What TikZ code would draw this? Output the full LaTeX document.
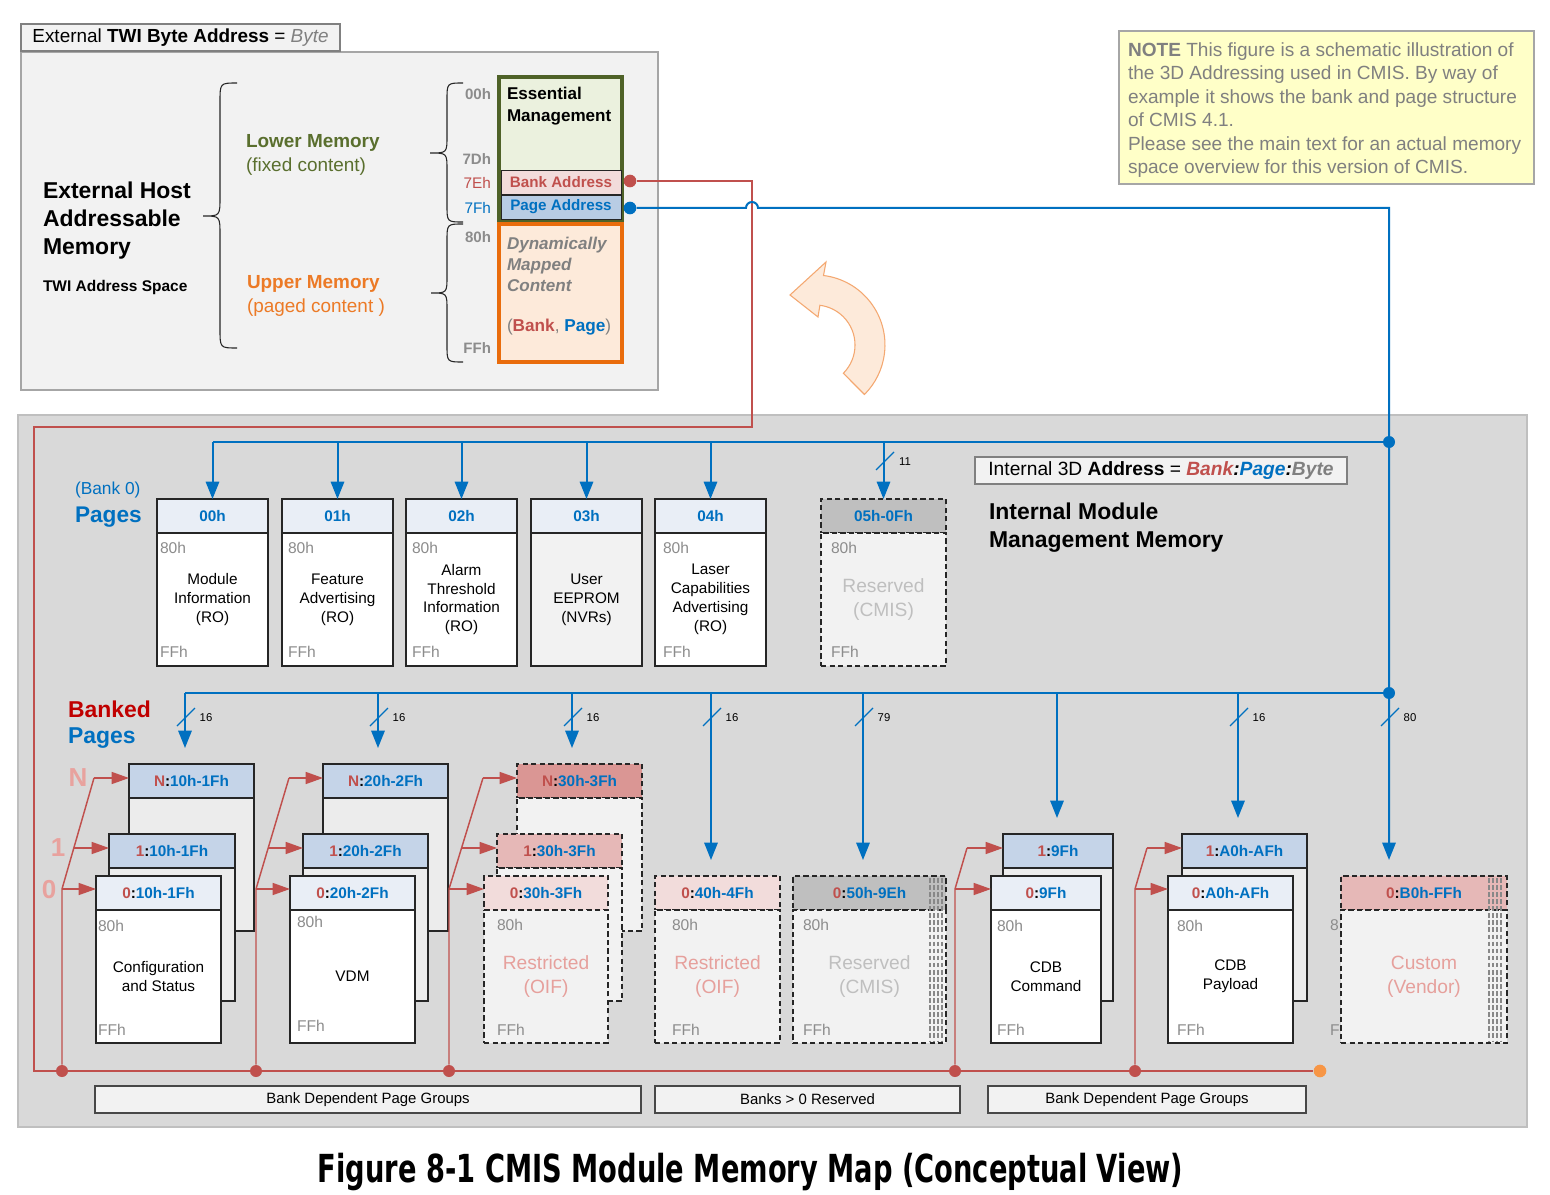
\documentclass[tikz,border=0pt]{standalone}
\usepackage{fontspec}
\usepackage{graphicx}
\setmainfont{Liberation Sans}
\newfontfamily\titlefont{DejaVu Sans}
\usetikzlibrary{arrows.meta}
\definecolor{cred}{HTML}{C0504D}
\definecolor{cblue}{HTML}{0070C0}
\definecolor{cgraytxt}{HTML}{808080}
\definecolor{chex}{HTML}{8C8C8C}
\definecolor{cregion}{HTML}{D9D9D9}
\definecolor{clight}{HTML}{F2F2F2}
\definecolor{chdrl}{HTML}{E9EEF6}
\definecolor{chdrb}{HTML}{C5D4E8}
\definecolor{cpageaddr}{HTML}{B8CCE4}
\definecolor{cbankaddr}{HTML}{F2DCDB}
\definecolor{csalN}{HTML}{DA9694}
\definecolor{csalA}{HTML}{E6B8B7}
\definecolor{csalZ}{HTML}{F2DCDB}
\definecolor{crestr}{HTML}{E6A09C}
\definecolor{cnum}{HTML}{E8A29E}
\definecolor{cres}{HTML}{BFBFBF}
\definecolor{cgreen}{HTML}{4F6228}
\definecolor{cgreenfill}{HTML}{EBF1DE}
\definecolor{colive}{HTML}{5A6F2E}
\definecolor{corange}{HTML}{EC7A26}
\definecolor{cobox}{HTML}{E96C0C}
\definecolor{corangefill}{HTML}{FDEADA}
\definecolor{carrowline}{HTML}{F4A871}
\definecolor{cnote}{HTML}{FFFFC8}
\definecolor{cborder}{HTML}{A6A6A6}
\definecolor{cdark}{HTML}{262626}
\definecolor{cbanked}{HTML}{C00000}
\definecolor{cstack}{HTML}{ECECEC}
\definecolor{codot}{HTML}{F79646}
\newcommand\fsz[2]{\fontsize{#1}{#2}\selectfont}
\newcommand\bk[2]{{\color{cred}#1}:{\color{cblue}#2}}
\newcommand\rbox[7][]{\node[inner sep=0pt, outer sep=0pt, anchor=north west, minimum width={(#4-#2)*0.75pt}, minimum height={(#5-#3)*0.75pt}, #1] (#6) at (#2,#3) {#7};}
\newcommand\busslash[4]{\draw[cblue, line width=1pt] (#2-8,#3+8) -- (#2+10,#3-10); \node[slashlbl] (#1) at (#2+21,#3) {#4};}
\newcommand\hatch[3]{\foreach \hx in {#1} {\draw[draw=cdark!55, line width=1pt, dash pattern=on 3.5pt off 1.8pt] (\hx,#2) -- (\hx,#3);}}
\tikzset{
  tx/.style={inner sep=0pt, outer sep=0pt},
  bus/.style={cblue, line width=1.5pt},
  barrow/.style={bus, -{Triangle[length=13pt,width=10pt]}},
  rline/.style={cred, line width=1.1pt},
  rarrow/.style={rline, -{Triangle[length=13pt,width=9pt]}},
  pg/.style={draw=cdark, line width=0.9pt},
  pgthick/.style={draw=cdark, line width=1.6pt},
  pgdash/.style={draw=cdark, line width=1.2pt, dash pattern=on 4pt off 2.4pt},
  hex/.style={tx, text=chex, font=\fsz{11.7}{14}, anchor=west},
  hdr/.style={font=\bfseries\fsz{11.5}{14}},
  body/.style={align=center, font=\fsz{11.5}{14.2}},
  bigbody/.style={align=center, font=\fsz{14.4}{18}},
  slashlbl/.style={tx, font=\fsz{8.5}{10}},
  rdot/.style={circle, fill=cred, inner sep=0pt, minimum size=9pt},
  bdot/.style={circle, fill=cblue, inner sep=0pt, minimum size=9pt},
}
\begin{document}
\begin{tikzpicture}[x=0.75pt,y=-0.75pt]
\useasboundingbox (0,0) rectangle (1550,1195);
\fill[white] (0,0) rectangle (1550,1195);

% ---------- external (top-left) ----------
\rbox[draw=cborder, fill=clight, line width=1pt]{21}{52}{658}{390}{extbox}{}
\rbox[draw=cgraytxt, fill=clight, line width=1pt, font=\fsz{14.2}{17}]{21}{24}{340}{51}{hdrbox}{External \textbf{TWI Byte Address} = {\color{cgraytxt}\itshape Byte}}

\node[tx, anchor=west, align=left, font=\bfseries\fsz{17.2}{21}] (ehost) at (43,221) {External Host\\Addressable\\Memory};
\node[tx, anchor=west, font=\bfseries\fsz{11.6}{14}] (twi) at (43,288) {TWI Address Space};
\draw[cdark, line width=0.8pt] (237,83) .. controls (220,83) .. (220,102) -- (220,197) .. controls (220,216) .. (203,216) .. controls (220,216) .. (220,235) -- (220,329) .. controls (220,348) .. (237,348);
\node[tx, anchor=west, align=left, text=colive, font=\fsz{14.2}{18}] (lower) at (246,155) {\textbf{Lower Memory}\\(fixed content)};
\node[tx, anchor=west, align=left, text=corange, font=\fsz{14.2}{18}] (upper) at (247,296) {\textbf{Upper Memory}\\(paged content )};
\draw[cdark, line width=0.8pt] (463,83) .. controls (447,83) .. (447,100) -- (447,136) .. controls (447,153) .. (430,153) .. controls (447,153) .. (447,170) -- (447,205) .. controls (447,222) .. (463,222);
\draw[cdark, line width=0.8pt] (463,224) .. controls (447,224) .. (447,241) -- (447,276) .. controls (447,293) .. (431,293) .. controls (447,293) .. (447,310) -- (447,345) .. controls (447,362) .. (463,362);

\node[tx, anchor=east, text=chex, font=\bfseries\fsz{11.3}{13}] (a00) at (491,94) {00h};
\node[tx, anchor=east, text=chex, font=\bfseries\fsz{11.3}{13}] (a7d) at (491,159) {7Dh};
\node[tx, anchor=east, text=cred, font=\fsz{11.5}{13}] (a7e) at (491,183) {7Eh};
\node[tx, anchor=east, text=cblue, font=\fsz{11.5}{13}] (a7f) at (491,208) {7Fh};
\node[tx, anchor=east, text=chex, font=\bfseries\fsz{11.3}{13}] (a80) at (491,237) {80h};
\node[tx, anchor=east, text=chex, font=\bfseries\fsz{11.3}{13}] (aff) at (491,348) {FFh};

\rbox[draw=cgreen, line width=3pt, fill=cgreenfill]{499}{77}{622}{220}{ess}{}
\rbox[draw=cobox, line width=3pt, fill=corangefill]{499}{224}{622}{362}{dyn}{}
\rbox[draw=cdark, line width=0.7pt, fill=cbankaddr, text=cred, font=\bfseries\fsz{11.4}{13}]{501}{170}{621}{194}{bankaddr}{Bank Address}
\rbox[draw=cdark, line width=0.7pt, fill=cpageaddr, text=cblue, font=\bfseries\fsz{11.4}{13}]{501}{195}{621}{219}{pageaddr}{Page Address}
\node[tx, anchor=west, align=left, font=\bfseries\fsz{12.8}{16.5}] (esstxt) at (507,106) {Essential\\Management};
\node[tx, anchor=west, align=left, text=cgraytxt, font=\bfseries\itshape\fsz{12.8}{15.75}] (dyntxt) at (507,264) {Dynamically\\Mapped\\Content};
\node[tx, anchor=west, text=cgraytxt, font=\fsz{12.9}{15}] (bp) at (507,327) {(\textbf{\color{cred}Bank}, \textbf{\color{cblue}Page})};
\node[rdot, minimum size=9.5pt] (dotB) at (630,181) {};
\node[bdot, minimum size=9.5pt] (dotP) at (630,208) {};

% ---------- NOTE ----------
\rbox[draw=cborder, fill=cnote, line width=1pt]{1119}{31}{1534}{184}{notebox}{}
\node[tx, anchor=west, align=left, text=cgraytxt, font=\fsz{14.3}{17.6}] (notetxt) at (1128,110) {\textbf{NOTE} This figure is a schematic illustration of\\the 3D Addressing used in CMIS. By way of\\example it shows the bank and page structure\\of CMIS 4.1.\\Please see the main text for an actual memory\\space overview for this version of CMIS.};

% ---------- curved arrow ----------
\draw[draw=carrowline, fill=corangefill, line width=0.8pt, line join=miter] (790,295) -- (826,262) -- (823.5,275.5) arc[start angle=-83, end angle=45, radius=70] -- (843.3,373.3) arc[start angle=45, end angle=-83, radius=40] -- (818,317) -- cycle;

% ---------- internal region ----------
\rbox[draw=cres, fill=cregion, line width=1.4pt]{18}{415}{1527}{1127}{region}{}

% red bank-address line
\coordinate (rc1) at (752,181);
\coordinate (rc2) at (752,427);
\coordinate (rc3) at (34,427);
\coordinate (rc4) at (34,1071);
\node[circle, fill=codot, inner sep=0pt, minimum size=9.5pt] (odot) at (1320,1071) {};
\draw[rline] (dotB) -- (rc1) -- (rc2) -- (rc3) -- (rc4) -- (odot);

% blue page-address line
\coordinate (hopL) at (746,208);
\coordinate (turn) at (1389,208);
\node[bdot] (jA) at (1389,442) {};
\node[bdot] (jB) at (1389,693) {};
\coordinate (bt8) at (1389,860);
\draw[barrow] (dotP) -- (hopL) arc[start angle=180, end angle=360, radius=6] -- (turn) -- (bt8);

% ---------- bank 0 pages ----------
\rbox[pg, fill=chdrl, text=cblue, hdr]{157}{499}{268}{533}{h00}{00h}
\rbox[pg, fill=white, body]{157}{533}{268}{666}{b00}{Module\\Information\\(RO)}
\rbox[pg, fill=chdrl, text=cblue, hdr]{282}{499}{393}{533}{h01}{01h}
\rbox[pg, fill=white, body]{282}{533}{393}{666}{b01}{Feature\\Advertising\\(RO)}
\rbox[pg, fill=chdrl, text=cblue, hdr]{406}{499}{517}{533}{h02}{02h}
\rbox[pg, fill=white, body]{406}{533}{517}{666}{b02}{Alarm\\Threshold\\Information\\(RO)}
\rbox[pg, fill=chdrl, text=cblue, hdr]{531}{499}{642}{533}{h03}{03h}
\rbox[pg, fill=clight, body]{531}{533}{642}{666}{b03}{User\\EEPROM\\(NVRs)}
\rbox[pg, fill=chdrl, text=cblue, hdr]{655}{499}{766}{533}{h04}{04h}
\rbox[pg, fill=white, body]{655}{533}{766}{666}{b04}{Laser\\Capabilities\\Advertising\\(RO)}
\rbox[pgdash, fill=cres, text=cblue, hdr]{821}{499}{946}{533}{h05}{05h-0Fh}
\rbox[pgdash, fill=clight, text=cres, bigbody]{821}{533}{946}{666}{b05}{Reserved\\(CMIS)}

\node[hex] (x00a) at (160,548) {80h};
\node[hex] (x00b) at (160,652) {FFh};
\node[hex] (x01a) at (288,548) {80h};
\node[hex] (x01b) at (288,652) {FFh};
\node[hex] (x02a) at (412,548) {80h};
\node[hex] (x02b) at (412,652) {FFh};
\node[hex] (x04a) at (663,548) {80h};
\node[hex] (x04b) at (663,652) {FFh};
\node[hex] (x05a) at (831,548) {80h};
\node[hex] (x05b) at (831,652) {FFh};

\draw[bus] (jA) -- (jA -| h00.north);
\foreach \h in {h00,h01,h02,h03,h04,h05} {\draw[barrow] (jA -| \h.north) -- (\h.north);}
\busslash{s11}{884}{462}{11}

\node[tx, anchor=west, text=cblue, font=\fsz{13}{15}] (bank0) at (75,490) {(Bank 0)};
\node[tx, anchor=west, text=cblue, font=\bfseries\fsz{17}{20}] (pages0) at (75,517) {Pages};
\rbox[draw=cgraytxt, fill=clight, line width=1.1pt, font=\fsz{14.4}{17}]{975}{457}{1347}{484}{intaddr}{Internal 3D \textbf{Address} = \textbf{\itshape{\color{cred}Bank}:{\color{cblue}Page}:{\color{cgraytxt}Byte}}}
\node[tx, anchor=west, align=left, font=\bfseries\fsz{17.2}{21}] (imm) at (989,528) {Internal Module\\Management Memory};

% ---------- banked pages ----------
\node[tx, anchor=west, text=cbanked, font=\bfseries\fsz{17.2}{20}] (banked) at (68,709) {Banked};
\node[tx, anchor=west, text=cblue, font=\bfseries\fsz{17.2}{20}] (pagesb) at (68,738) {Pages};
\node[tx, text=cnum, font=\bfseries\fsz{19.5}{22}] (lN) at (78,778) {N};
\node[tx, text=cnum, font=\bfseries\fsz{19.5}{22}] (l1) at (58,848) {1};
\node[tx, text=cnum, font=\bfseries\fsz{19.5}{22}] (l0) at (49,890) {0};

% group 10h-1Fh
\rbox[pgthick, fill=chdrb, hdr]{129}{764}{254}{798}{g1nh}{\bk{N}{10h-1Fh}}
\rbox[pg, fill=cstack]{129}{798}{254}{931}{g1nb}{}
\rbox[pgthick, fill=chdrb, hdr]{109}{834}{235}{868}{g11h}{\bk{1}{10h-1Fh}}
\rbox[pg, fill=cstack]{109}{868}{235}{1001}{g11b}{}
\rbox[pgthick, fill=chdrl, hdr]{96}{876}{221}{910}{g10h}{\bk{0}{10h-1Fh}}
\rbox[pg, fill=white, body]{96}{910}{221}{1043}{g10b}{Configuration\\and Status}
\node[hex] (y1a) at (98,926) {80h};
\node[hex] (y1b) at (98,1030) {FFh};
% group 20h-2Fh
\rbox[pgthick, fill=chdrb, hdr]{323}{764}{448}{798}{g2nh}{\bk{N}{20h-2Fh}}
\rbox[pg, fill=cstack]{323}{798}{448}{931}{g2nb}{}
\rbox[pgthick, fill=chdrb, hdr]{303}{834}{428}{868}{g21h}{\bk{1}{20h-2Fh}}
\rbox[pg, fill=cstack]{303}{868}{428}{1001}{g21b}{}
\rbox[pgthick, fill=chdrl, hdr]{290}{876}{415}{910}{g20h}{\bk{0}{20h-2Fh}}
\rbox[pg, fill=white, body]{290}{910}{415}{1043}{g20b}{VDM}
\node[hex] (y2a) at (297,922) {80h};
\node[hex] (y2b) at (297,1026) {FFh};
% group 30h-3Fh
\rbox[pgdash, fill=csalN, hdr]{517}{764}{642}{798}{g3nh}{\bk{N}{30h-3Fh}}
\rbox[pgdash, fill=clight]{517}{798}{642}{931}{g3nb}{}
\rbox[pgdash, fill=csalA, hdr]{497}{834}{622}{868}{g31h}{\bk{1}{30h-3Fh}}
\rbox[pgdash, fill=clight]{497}{868}{622}{1001}{g31b}{}
\rbox[pgdash, fill=csalZ, hdr]{484}{876}{608}{910}{g30h}{\bk{0}{30h-3Fh}}
\rbox[pgdash, fill=clight, text=crestr, bigbody]{484}{910}{608}{1043}{g30b}{Restricted\\(OIF)}
\node[hex] (y3a) at (497,925) {80h};
\node[hex] (y3b) at (497,1030) {FFh};
% 40h-4Fh
\rbox[pgdash, fill=csalZ, hdr]{655}{876}{780}{910}{g40h}{\bk{0}{40h-4Fh}}
\rbox[pgdash, fill=clight, text=crestr, bigbody]{655}{910}{780}{1043}{g40b}{Restricted\\(OIF)}
\node[hex] (y4a) at (672,925) {80h};
\node[hex] (y4b) at (672,1030) {FFh};
% 50h-9Eh
\rbox[pgdash, fill=cres, hdr]{793}{876}{946}{910}{g50h}{\bk{0}{50h-9Eh}}
\rbox[pgdash, fill=clight, text=cres, bigbody]{793}{910}{946}{1043}{g50b}{Reserved\\(CMIS)}
\hatch{930,934,938,942}{878}{1041}
\node[hex] (y5a) at (803,925) {80h};
\node[hex] (y5b) at (803,1030) {FFh};
% 9Fh
\rbox[pg, fill=chdrb, hdr]{1003}{834}{1113}{868}{g9fh1}{\bk{1}{9Fh}}
\rbox[pg, fill=cstack]{1003}{868}{1113}{1001}{g9fb1}{}
\rbox[pg, fill=chdrl, hdr]{991}{876}{1101}{910}{g9fh0}{\bk{0}{9Fh}}
\rbox[pg, fill=white, body]{991}{910}{1101}{1043}{g9fb0}{CDB\\Command}
\node[hex] (y6a) at (997,926) {80h};
\node[hex] (y6b) at (997,1030) {FFh};
% A0h-AFh
\rbox[pgthick, fill=chdrb, hdr]{1182}{834}{1307}{868}{gah1}{\bk{1}{A0h-AFh}}
\rbox[pg, fill=cstack]{1182}{868}{1307}{1001}{gab1}{}
\rbox[pgthick, fill=chdrl, hdr]{1168}{876}{1293}{910}{gah0}{\bk{0}{A0h-AFh}}
\rbox[pg, fill=white, body]{1168}{910}{1293}{1043}{gab0}{CDB\\Payload}
\node[hex] (y7a) at (1177,926) {80h};
\node[hex] (y7b) at (1177,1030) {FFh};
% B0h-FFh
\node[hex] (y8a) at (1330,925) {8};
\node[hex] (y8b) at (1330,1030) {F};
\rbox[pgdash, fill=csalA, hdr]{1341}{876}{1507}{910}{gbh}{\bk{0}{B0h-FFh}}
\rbox[pgdash, fill=clight, text=crestr, bigbody]{1341}{910}{1507}{1043}{gbb}{Custom\\(Vendor)}
\hatch{1489,1493,1497,1501}{878}{1041}

% banked bus
\coordinate (bt1) at (185,748);
\coordinate (bt2) at (378,748);
\coordinate (bt3) at (572,748);
\coordinate (bt4) at (711,860);
\coordinate (bt5) at (863,860);
\coordinate (bt6) at (1057,818);
\coordinate (bt7) at (1238,818);
\draw[bus] (jB) -- (jB -| bt1);
\foreach \b in {bt1,bt2,bt3,bt4,bt5,bt6,bt7} {\draw[barrow] (jB -| \b) -- (\b);}
\busslash{s1}{185}{718}{16}
\busslash{s2}{378}{718}{16}
\busslash{s3}{572}{718}{16}
\busslash{s4}{711}{718}{16}
\busslash{s5}{863}{718}{79}
\busslash{s7}{1238}{718}{16}
\busslash{s8}{1389}{718}{80}

% red bank select branches
\node[rdot] (rd1) at (62,1071) {};
\node[rdot] (rd2) at (256,1071) {};
\node[rdot] (rd3) at (449,1071) {};
\node[rdot] (rd4) at (955,1071) {};
\node[rdot] (rd5) at (1135,1071) {};
\coordinate (rj1) at (62,889);  \coordinate (rk1) at (94,778);  \coordinate (rm1) at (73.5,848);
\coordinate (rj2) at (256,889); \coordinate (rk2) at (289,778); \coordinate (rm2) at (268,848);
\coordinate (rj3) at (449,889); \coordinate (rk3) at (483,778); \coordinate (rm3) at (461.5,848);
\coordinate (rj4) at (955,889); \coordinate (rk4) at (967,848);
\coordinate (rj5) at (1135,889); \coordinate (rk5) at (1147,848);
\draw[rline] (rd1) -- (rj1) -- (rk1);
\draw[rarrow] (rj1) -- (rj1 -| g10h.west);
\draw[rarrow] (rm1) -- (rm1 -| g11h.west);
\draw[rarrow] (rk1) -- (rk1 -| g1nh.west);
\draw[rline] (rd2) -- (rj2) -- (rk2);
\draw[rarrow] (rj2) -- (rj2 -| g20h.west);
\draw[rarrow] (rm2) -- (rm2 -| g21h.west);
\draw[rarrow] (rk2) -- (rk2 -| g2nh.west);
\draw[rline] (rd3) -- (rj3) -- (rk3);
\draw[rarrow] (rj3) -- (rj3 -| g30h.west);
\draw[rarrow] (rm3) -- (rm3 -| g31h.west);
\draw[rarrow] (rk3) -- (rk3 -| g3nh.west);
\draw[rline] (rd4) -- (rj4) -- (rk4);
\draw[rarrow] (rj4) -- (rj4 -| g9fh0.west);
\draw[rarrow] (rk4) -- (rk4 -| g9fh1.west);
\draw[rline] (rd5) -- (rj5) -- (rk5);
\draw[rarrow] (rj5) -- (rj5 -| gah0.west);
\draw[rarrow] (rk5) -- (rk5 -| gah1.west);

% bottom labels
\rbox[draw=cdark!85, fill=clight, line width=0.8pt, font=\fsz{11.2}{13}]{95}{1086}{641}{1113}{lab1}{Bank Dependent Page Groups}
\rbox[draw=cdark!85, fill=clight, line width=0.8pt, font=\fsz{11.2}{13}]{655}{1086}{960}{1113}{lab2}{Banks > 0 Reserved}
\rbox[draw=cdark!85, fill=clight, line width=0.8pt, font=\fsz{11.2}{13}]{988}{1086}{1306}{1113}{lab3}{Bank Dependent Page Groups}

% title
\node[tx] (title) at (750.5,1172) {\resizebox{649pt}{22pt}{\titlefont\bfseries Figure 8-1 CMIS Module Memory Map (Conceptual View)}};
\end{tikzpicture}
\end{document}
